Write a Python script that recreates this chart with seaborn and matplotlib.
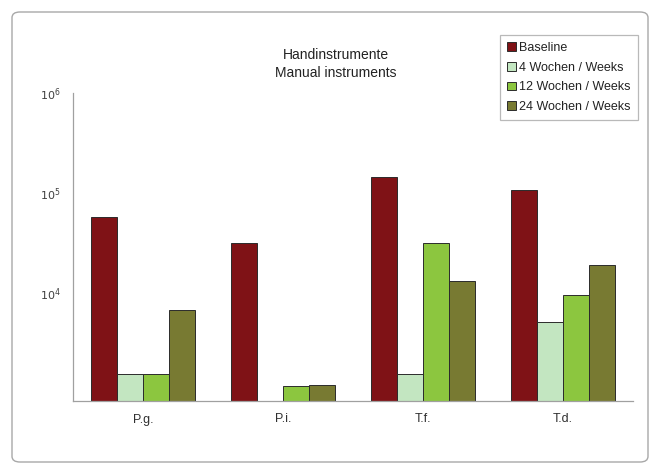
import matplotlib
matplotlib.use("Agg")
import matplotlib.pyplot as plt
from matplotlib.patches import FancyBboxPatch
import seaborn as sns
import pandas as pd
import numpy as np

# Bacterial counts per species and time point
categories = ["P.g.", "P.i.", "T.f.", "T.d."]
series = ["Baseline", "4 Wochen / Weeks", "12 Wochen / Weeks", "24 Wochen / Weeks"]
baseline = [57500, 31600, 145000, 107000]
weeks_4 = [1550, np.nan, 1550, 5100]
weeks_12 = [1550, 1175, 31600, 9550]
weeks_24 = [6800, 1200, 13200, 19000]
colors = ["#7f1216", "#c3e6c1", "#8cc63f", "#787a32"]
title = "Handinstrumente\nManual instruments"

df = pd.DataFrame({
    "Species": categories * 4,
    "Series": [s for s in series for _ in categories],
    "Count": baseline + weeks_4 + weeks_12 + weeks_24,
})

sns.set_style("white")
plt.rcParams["font.family"] = ["Liberation Sans", "DejaVu Sans"]

fig = plt.figure(figsize=(6.6, 4.74), dpi=100)
ax = fig.add_axes([73 / 660, 1 - 401 / 474, 560 / 660, 308 / 474])

sns.barplot(data=df, x="Species", y="Count", hue="Series", hue_order=series,
            palette=colors, saturation=1, width=0.743, edgecolor="#2b2b2b",
            linewidth=0.7, errorbar=None, ax=ax)

ax.set_yscale("log")
ax.set_ylim(832, 1e6)
ax.set_yticks([1e4, 1e5, 1e6])
ax.set_yticklabels([r"$10^4$", r"$10^5$", r"$10^6$"])
ax.yaxis.set_minor_locator(matplotlib.ticker.NullLocator())
ax.set_xlim(-0.5, 3.5)
ax.set_xlabel("")
ax.set_ylabel("")

for side in ["top", "right"]:
    ax.spines[side].set_visible(False)
for side in ["left", "bottom"]:
    ax.spines[side].set_color("#a0a0a0")
    ax.spines[side].set_linewidth(0.9)

ax.tick_params(axis="y", labelsize=8, colors="#a0a0a0", labelcolor="#404040",
               length=0, pad=9)
ax.tick_params(axis="x", labelsize=9, labelcolor="#303030", length=0, pad=9)

# category separators on the x axis
ax.set_xticks([0.5, 1.5, 2.5], minor=True)
ax.tick_params(axis="x", which="minor", length=3, color="#a0a0a0", direction="out")

fig.text(336 / 660, 1 - 64 / 474, title, ha="center", va="center",
         fontsize=10, color="#222222", linespacing=1.45)

leg = ax.legend(loc="upper left", bbox_to_anchor=(500 / 660, 1 - 35 / 474),
                bbox_transform=fig.transFigure, frameon=True, fancybox=False,
                fontsize=9, handlelength=0.7, handleheight=0.7,
                handletextpad=0.3, labelspacing=0.62, borderpad=0.55,
                borderaxespad=0)
leg.get_frame().set_edgecolor("#a8a8a8")
leg.get_frame().set_linewidth(0.9)
for t in leg.get_texts():
    t.set_color("#222222")

# outer chart frame
frame = FancyBboxPatch((12 / 660, 12 / 474), 636 / 660, 450 / 474,
                       boxstyle="round,pad=0,rounding_size=0.012",
                       transform=fig.transFigure, facecolor="none",
                       edgecolor="#a8a8a8", linewidth=1.0)
fig.patches.append(frame)

fig.savefig("out.png", dpi=100)
